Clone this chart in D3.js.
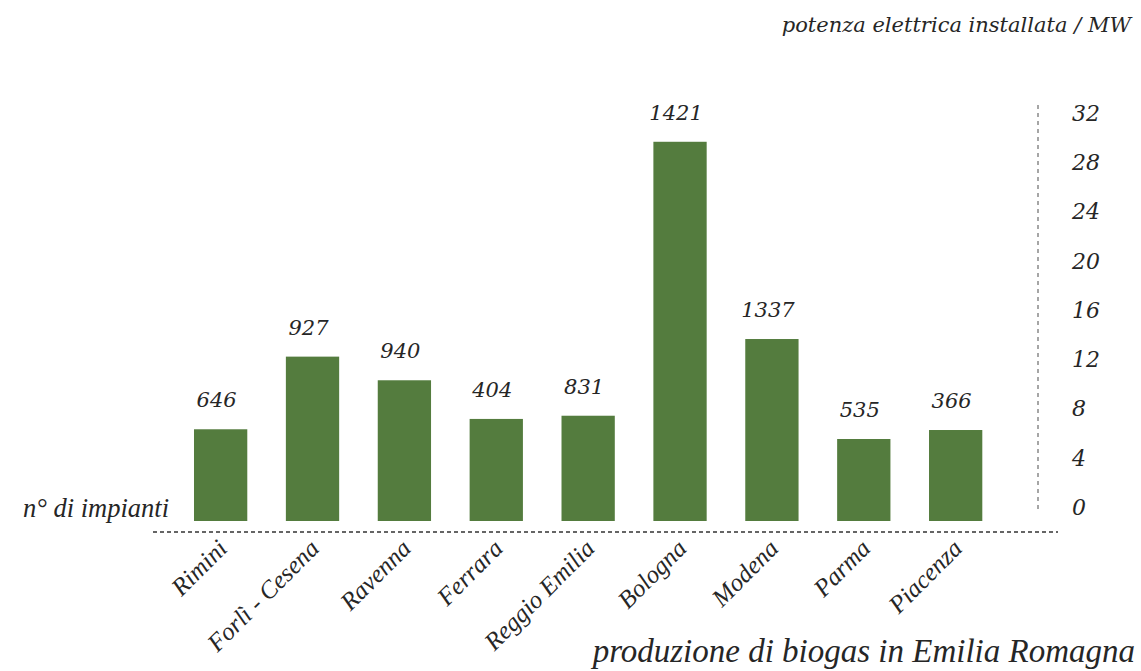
<!DOCTYPE html>
<html>
<head>
<meta charset="utf-8">
<script src="https://cdn.jsdelivr.net/npm/d3@7"></script>
<style>
  html, body { margin: 0; padding: 0; background: #ffffff; }
  svg { display: block; }
</style>
</head>
<body>
<svg id="chart" width="1141" height="671"></svg>
<script>
// Province of Emilia-Romagna
const provinces = ["Rimini", "Forlì - Cesena", "Ravenna", "Ferrara", "Reggio Emilia",
                   "Bologna", "Modena", "Parma", "Piacenza"];
// Installed electric power (MW) per province
const powerMW = [7.45, 13.35, 11.43, 8.29, 8.55, 30.8, 14.78, 6.66, 7.39];
// Number printed above each bar
const plantLabels = [646, 927, 940, 404, 831, 1421, 1337, 535, 366];
// Right-hand axis ticks (MW)
const powerTicks = [0, 4, 8, 12, 16, 20, 24, 28, 32];

const svg = d3.select("#chart");
const W = 1141, H = 671;
svg.append("rect").attr("width", W).attr("height", H).attr("fill", "#ffffff");

const green = "#547c3e";
const ink = "#262626";
const serifA = "'DejaVu Serif', Georgia, serif";
const serifB = "'Liberation Serif', 'Times New Roman', serif";

const x = d3.scaleBand()
  .domain(provinces)
  .range([174.7, 1001.6])
  .paddingInner(0.42)
  .paddingOuter(0.21);

const y = d3.scaleLinear()
  .domain([0, 32])
  .range([521, 127]);

// bars
svg.append("g")
  .selectAll("rect")
  .data(provinces)
  .join("rect")
  .attr("x", d => x(d))
  .attr("width", x.bandwidth())
  .attr("y", (d, i) => y(powerMW[i]))
  .attr("height", (d, i) => y(0) - y(powerMW[i]))
  .attr("fill", green);

// numbers above the bars
svg.append("g")
  .selectAll("text")
  .data(provinces)
  .join("text")
  .attr("x", d => x(d) + x.bandwidth() / 2 - 4)
  .attr("y", (d, i) => y(powerMW[i]) - 22)
  .attr("text-anchor", "middle")
  .attr("font-family", serifA)
  .attr("font-style", "italic")
  .attr("font-size", 21)
  .attr("fill", ink)
  .text((d, i) => plantLabels[i]);

// right axis (MW)
const axis = svg.append("g")
  .attr("transform", "translate(1062,0)")
  .call(d3.axisRight(y).tickValues(powerTicks).tickSize(0).tickPadding(10));
axis.select(".domain").remove();
axis.selectAll("text")
  .attr("dy", "-0.3em")
  .attr("font-family", serifA)
  .attr("font-style", "italic")
  .attr("font-size", 22)
  .attr("fill", ink);

// dashed vertical guide beside the axis
svg.append("line")
  .attr("x1", 1038).attr("x2", 1038)
  .attr("y1", y(32) - 22).attr("y2", y(0) - 9)
  .attr("stroke", "#777")
  .attr("stroke-width", 1.3)
  .attr("stroke-dasharray", "4,4");

// dashed baseline under the bars
svg.append("line")
  .attr("x1", 153).attr("x2", 1058)
  .attr("y1", 532).attr("y2", 532)
  .attr("stroke", "#333")
  .attr("stroke-width", 1.4)
  .attr("stroke-dasharray", "4,3");

// category labels, rotated
svg.append("g")
  .selectAll("text")
  .data(provinces)
  .join("text")
  .attr("transform", d => `translate(${x(d) + x.bandwidth() / 2 + 8},550) rotate(-45)`)
  .attr("text-anchor", "end")
  .attr("font-family", serifB)
  .attr("font-style", "italic")
  .attr("font-size", 25)
  .attr("fill", ink)
  .text(d => d);

// left label for the numbers row
svg.append("text")
  .attr("x", 23).attr("y", 517)
  .attr("font-family", serifB)
  .attr("font-style", "italic")
  .attr("font-size", 26.5)
  .attr("fill", ink)
  .text("n° di impianti");

// unit title, top right
svg.append("text")
  .attr("x", 1131).attr("y", 32)
  .attr("text-anchor", "end")
  .attr("font-family", serifA)
  .attr("font-style", "italic")
  .attr("font-size", 21)
  .attr("fill", ink)
  .text("potenza elettrica installata / MW");

// chart title, bottom right
svg.append("text")
  .attr("x", 1135).attr("y", 662)
  .attr("text-anchor", "end")
  .attr("font-family", serifB)
  .attr("font-style", "italic")
  .attr("font-size", 33)
  .attr("fill", ink)
  .text("produzione di biogas in Emilia Romagna");
</script>
</body>
</html>
